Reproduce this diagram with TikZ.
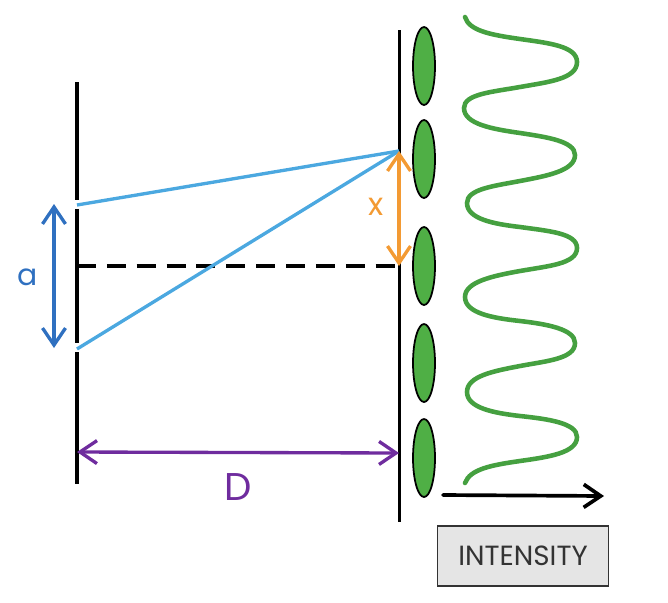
\documentclass[tikz,border=0pt]{standalone}
\usepackage{fontspec}
\setmainfont{Poppins}
\usetikzlibrary{arrows.meta}
\definecolor{fringegreen}{HTML}{4FAF45}
\definecolor{curvegreen}{HTML}{45A040}
\definecolor{raycolor}{HTML}{4BA8E0}
\definecolor{sepblue}{HTML}{2F70C0}
\definecolor{xorange}{HTML}{F39A33}
\definecolor{distpurple}{HTML}{6F2C9E}
\tikzset{
    wall/.style={line width=2.1pt},
    fringe/.style={draw=black, line width=1pt, fill=fringegreen},
    ray/.style={line width=1.9pt, raycolor},
    dimarrow/.style={line width=1.9pt, line cap=round, {Straight Barb[length=3.4mm, width=4.6mm]}-{Straight Barb[length=3.4mm, width=4.6mm]}},
    textbox/.style={draw=black!80, line width=1pt, fill=black!10, minimum width=3.42cm, minimum height=1.2cm, inner sep=0pt}
}

\begin{document}
\begin{tikzpicture}[x=0.02cm, y=-0.02cm]
    \useasboundingbox (0,0) rectangle (668,602);

    % --- Named points ---
    \coordinate (slitA) at (77,205);
    \coordinate (slitB) at (77,349);
    \coordinate (maxP) at (399,151);
    \coordinate (centreP) at (399,266);

    % Double slit barrier
    \draw[wall] (77,82) -- (77,200);
    \draw[wall] (77,209) -- (77,343);
    \draw[wall] (77,352) -- (77,484);

    % Screen
    \draw[wall] (399.5,30) -- (399.5,522);

    % Central dashed line
    \draw[wall, dash pattern=on 10.8pt off 6.2pt] (77,266) -- (centreP);

    % Rays from the slits
    \draw[ray] (slitA) -- (maxP);
    \draw[ray] (slitB) -- (maxP);

    % Bright fringes
    \foreach \ypos in {66, 159, 266, 363, 458} {
        \draw[fringe] (424,\ypos) ellipse (11 and 39);
    }

    % Separations
    \draw[dimarrow, sepblue] (54,204) -- (54,348);
    \node[sepblue, font=\fontsize{17}{17}\selectfont] (labelA) at (28,277) {a};
    \draw[dimarrow, xorange] (maxP) -- (centreP);
    \node[xorange, font=\fontsize{18}{18}\selectfont] (labelX) at (376,207) {x};
    \draw[dimarrow, distpurple] (77,452) -- (399,453);
    \node[distpurple, font=\fontsize{22}{22}\selectfont] (labelD) at (238,487) {D};

    % Intensity curve
    \draw[line width=2.6pt, curvegreen, line cap=round] (465,17)
        .. controls (469,31) and (492,35) .. (520,39)
        .. controls (548,43) and (577,46) .. (577,62)
        .. controls (577,79) and (548,82) .. (520,87)
        .. controls (492,92) and (464,94) .. (464,108)
        .. controls (464,124) and (492,129) .. (520,133)
        .. controls (546,137) and (575,141) .. (575,155)
        .. controls (575,171) and (546,176) .. (520,181)
        .. controls (494,186) and (467,189) .. (467,203)
        .. controls (467,219) and (494,224) .. (520,227)
        .. controls (548,231) and (577,233) .. (577,248)
        .. controls (577,264) and (548,266) .. (520,271)
        .. controls (492,276) and (465,282) .. (465,297)
        .. controls (465,313) and (492,318) .. (520,321)
        .. controls (546,324) and (575,329) .. (575,343)
        .. controls (575,359) and (546,361) .. (520,366)
        .. controls (494,371) and (467,376) .. (467,392)
        .. controls (467,408) and (494,413) .. (520,416)
        .. controls (548,419) and (577,423) .. (577,437)
        .. controls (577,453) and (548,457) .. (520,461)
        .. controls (492,465) and (470,469) .. (465,483);

    % Intensity axis
    \coordinate (axisStart) at (443,495);
    \coordinate (axisEnd) at (604,496);
    \draw[wall, line cap=round, -{Straight Barb[length=3.4mm, width=4.6mm]}] (axisStart) -- (axisEnd);
    \node[textbox, text=black!80, font=\fontsize{15.8}{16}\selectfont] (intensity) at (523,556) {INTENSITY};
\end{tikzpicture}
\end{document}
